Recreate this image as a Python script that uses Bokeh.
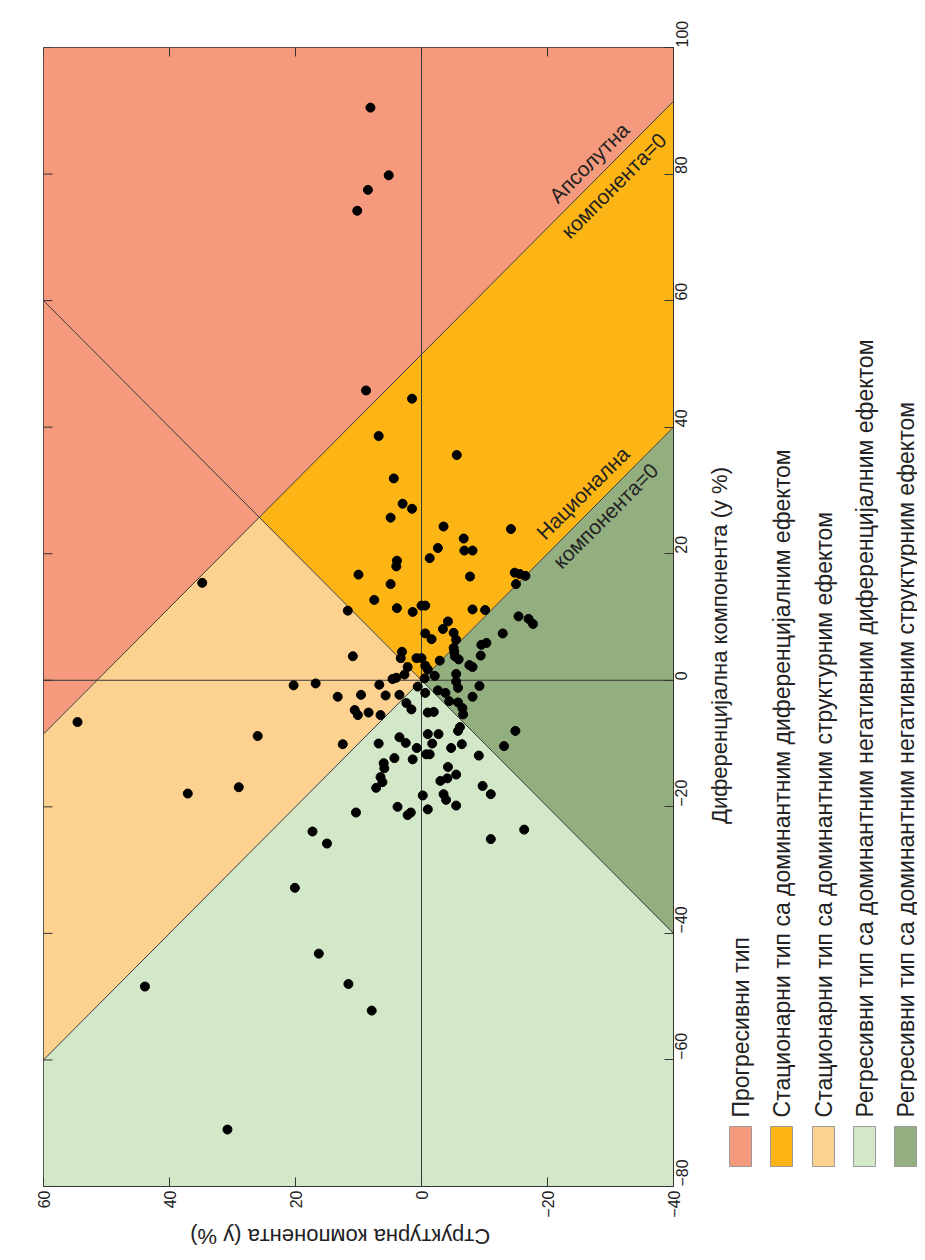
import math
from bokeh.plotting import figure
from bokeh.models import Range1d, LinearAxis, FixedTicker, ColumnDataSource
from bokeh.layouts import row, column
from bokeh.embed import file_html
from bokeh.resources import INLINE
from bokeh.core.properties import value

# ---------------- data (structural S, differential D, in %) ----------------
structural = [8.1, 5.2, 8.5, 10.2, 8.8, 1.5, 6.8, -5.6, 4.4,
              3.0, 1.5, 4.9, -3.5, -14.2, -6.7, -2.6, -6.8, -8.1, -1.3, 3.9,
              4.0, 10.0, 4.9, -7.7, -14.8, -15.6, -16.5, -15.0, 7.5, 11.7, 3.9, 1.4, 0.0, -0.6,
              -8.1, -10.1, -4.2, -3.4, -5.1, -5.5, -0.6, -1.6, -15.4, -17.0, -17.7, -12.9,
              -9.5, -10.3, -5.1, -5.2, -9.4, 3.1, 3.3, 10.9, 0.8, 0.0, -2.9, -5.3, -5.9,
              2.2, -0.6, -1.0, -7.6, -8.1, 2.7, 4.0, 4.6, -0.5, -2.1, -5.5, 6.7, -5.5,
              -5.8, -9.2, 0.6, 13.3, 9.6, 5.7, -0.6, -2.6, -3.8, -8.1, 3.5,
              2.4, 1.6, 10.6, 10.1, 8.4, 6.5, -1.0, -1.95, -4.4, -5.8, -6.5, -6.6,
              12.5, 6.8, 3.5, 2.5, 0.75, -1.0, -2.7, -1.7, -0.75, -1.3, -5.8, -6.1,
              -6.4, -4.7, -14.9, -13.1, -9.1, 4.3, 1.4, 6.0, 5.9, 6.5, 6.2, 7.2,
              -4.2, -4.1, -3.0, -5.5, -9.7, -11.0, -0.2, -3.5, -3.9, -5.5, 3.8, -1.0,
              2.2, 1.7, 10.4, 17.3, 15.0, -16.3, -11.0,
              34.8, 54.6, 20.3, 16.8, 26.0, 37.1, 29.0, 20.1, 16.3, 43.9, 30.8,
              11.6, 7.9]
differential = [90.5, 79.8, 77.5, 74.2, 45.8, 44.5, 38.6, 35.6, 31.9,
                27.9, 27.1, 25.7, 24.3, 23.9, 22.4, 20.9, 20.5, 20.5, 19.3, 18.9,
                18.0, 16.7, 15.2, 16.4, 17.0, 16.8, 16.5, 15.2, 12.7, 11.0, 11.4, 10.8, 11.8, 11.8,
                11.2, 11.1, 9.3, 8.1, 7.5, 6.4, 7.4, 6.5, 10.1, 9.7, 8.9, 7.4,
                5.6, 5.9, 5.1, 4.5, 3.9, 4.5, 3.5, 3.8, 3.5, 3.5, 3.1, 3.8, 3.3,
                2.1, 2.3, 1.7, 2.4, 2.1, 0.9, 0.4, 0.2, 0.3, 0.7, 1.0, -0.7, -0.2,
                -1.2, -0.9, -1.0, -2.6, -2.3, -2.4, -2.0, -1.6, -2.0, -2.6, -2.3,
                -3.6, -4.6, -4.7, -5.5, -5.1, -5.5, -5.1, -5.0, -3.3, -3.5, -4.4, -5.4,
                -10.1, -10.0, -9.0, -9.9, -10.7, -8.5, -8.5, -10.0, -11.7, -11.7, -8.0, -7.4,
                -10.1, -10.7, -8.0, -10.4, -11.9, -12.3, -12.5, -13.1, -13.9, -15.3, -16.1, -17.0,
                -13.7, -15.5, -15.9, -14.9, -16.7, -18.0, -18.2, -18.0, -18.9, -19.8, -20.0, -20.4,
                -21.3, -20.9, -20.9, -23.9, -25.8, -23.6, -25.1,
                15.4, -6.6, -0.8, -0.5, -8.8, -17.9, -16.9, -32.8, -43.2, -48.4, -71.0,
                -48.0, -52.2]

# axis extents and ticks
S_MIN, S_MAX = -40, 60
D_MIN, D_MAX = -80, 100
s_ticks = [60, 40, 20, 0, -20, -40]
d_ticks = [100, 80, 60, 40, 20, 0, -20, -40, -60, -80]

# D + S on the line "Апсолутна компонента=0"
abs_zero = 51.5

region_names = ["Прогресивни тип",
                "Стационарни тип са доминантним диференцијалним ефектом",
                "Стационарни тип са доминантним структурним ефектом",
                "Регресивни тип са доминантним негативним диференцијалним ефектом",
                "Регресивни тип са доминантним негативним структурним ефектом"]
region_colors = ["#F59A7D", "#FDB515", "#FDD290", "#D3E8C9", "#93AE7F"]

x_label = "Структурна компонента (у %)"
y_label = "Диференцијална компонента (у %)"
line_labels = ["Апсолутна", "компонента=0", "Национална", "компонента=0"]

FONT = "Liberation Sans"
TXT = "#222222"

# ---------------- layout geometry (pixels) ----------------
MAIN_W, MAIN_H = 704, 1220
FR_L, FR_T, FR_R, FR_B = 43, 47, 673, 1187
BOT_H = 30
LEG_W = 213
TOTAL_H = MAIN_H + BOT_H

# ---------------- regions (x = S, y = D) ----------------
h = abs_zero / 2.0
reg_xs = [[S_MAX, S_MAX, S_MIN, S_MIN],
          [h, S_MIN, S_MIN, 0],
          [h, S_MAX, S_MAX, 0],
          [0, S_MAX, S_MAX, S_MIN, S_MIN],
          [0, S_MIN, S_MIN]]
reg_ys = [[abs_zero - S_MAX, D_MAX, D_MAX, abs_zero - S_MIN],
          [h, abs_zero - S_MIN, -S_MIN, 0],
          [h, abs_zero - S_MAX, -S_MAX, 0],
          [0, -S_MAX, D_MIN, D_MIN, S_MIN],
          [0, -S_MIN, S_MIN]]

p = figure(width=MAIN_W, height=MAIN_H,
           x_range=Range1d(S_MAX, S_MIN), y_range=Range1d(D_MIN, D_MAX),
           output_backend="svg", toolbar_location=None,
           x_axis_location=None, y_axis_location=None,
           min_border_left=FR_L, min_border_right=MAIN_W - FR_R,
           min_border_top=FR_T, min_border_bottom=MAIN_H - FR_B)
p.grid.grid_line_color = None
p.outline_line_color = "#333333"
p.outline_line_width = 1

p.patches(reg_xs, reg_ys, fill_color=region_colors, line_color=None)

line_col = "#3a3a3a"
p.line([S_MIN, S_MAX], [0, 0], line_color=line_col, line_width=1)
p.line([0, 0], [D_MIN, D_MAX], line_color=line_col, line_width=1)
p.line([S_MIN, S_MAX], [S_MIN, S_MAX], line_color=line_col, line_width=1)
p.line([S_MIN, S_MAX], [-S_MIN, -S_MAX], line_color=line_col, line_width=1)
p.line([S_MIN, S_MAX], [abs_zero - S_MIN, abs_zero - S_MAX], line_color=line_col, line_width=1)

p.scatter(structural, differential, size=9, color="black")

# inward tick marks on the left and top edges (no labels there)
px_s = (S_MAX - S_MIN) / (FR_R - FR_L)
px_d = (D_MAX - D_MIN) / (FR_B - FR_T)
tick_len = 9
p.segment(x0=[S_MAX] * len(d_ticks), y0=d_ticks,
          x1=[S_MAX - tick_len * px_s] * len(d_ticks), y1=d_ticks, line_color="#333333")
p.segment(x0=s_ticks, y0=[D_MAX] * len(s_ticks),
          x1=s_ticks, y1=[D_MAX - tick_len * px_d] * len(s_ticks), line_color="#333333")


def axis(ticks, standoff):
    return LinearAxis(ticker=FixedTicker(ticks=ticks),
                      major_tick_in=tick_len, major_tick_out=0,
                      minor_tick_line_color=None,
                      major_tick_line_color="#333333",
                      axis_line_color="#333333",
                      major_label_orientation=math.pi / 2,
                      major_label_text_font=FONT,
                      major_label_text_font_size="16px",
                      major_label_text_color=TXT,
                      major_label_standoff=standoff)


p.add_layout(axis(s_ticks, 4), "below")
p.add_layout(axis(d_ticks, 8), "right")

# labels of the two diagonal lines
lab_s = [-26.6, -30.5, -25.6, -29.2]
lab_d = [81.8, 78.2, 29.6, 26.0]
p.text(x=lab_s, y=lab_d, text=line_labels, angle=math.pi / 4,
       text_align="center", text_baseline="middle",
       text_font=value(FONT), text_font_size="21px", text_color=TXT)

# ---------------- bottom axis title (upside down, as in the rotated original) ----------------
bf = figure(width=MAIN_W, height=BOT_H, x_range=p.x_range, y_range=Range1d(0, BOT_H),
            output_backend="svg", toolbar_location=None,
            x_axis_location=None, y_axis_location=None,
            min_border_left=FR_L, min_border_right=MAIN_W - FR_R,
            min_border_top=0, min_border_bottom=0)
bf.grid.grid_line_color = None
bf.outline_line_color = None
bf.text(x=[12.9], y=[TOTAL_H - 1236], text=[x_label], angle=math.pi,
        text_align="center", text_baseline="middle",
        text_font=value(FONT), text_font_size="22px", text_color=TXT)

# ---------------- legend panel (and right axis title) ----------------
lg = figure(width=LEG_W, height=TOTAL_H, x_range=Range1d(0, LEG_W), y_range=Range1d(0, TOTAL_H),
            output_backend="svg", toolbar_location=None,
            x_axis_location=None, y_axis_location=None, min_border=0)
lg.grid.grid_line_color = None
lg.outline_line_color = None

leg_cx = [740, 781, 823, 864, 905]
src = ColumnDataSource(dict(x=[c - MAIN_W for c in leg_cx], y=[TOTAL_H - 1146] * 5,
                            c=region_colors, t=region_names, ty=[TOTAL_H - 1117] * 5))
lg.rect(x="x", y="y", width=22, height=40, fill_color="c", line_color="#9a9a9a", source=src)
lg.text(x="x", y="ty", text="t", angle=math.pi / 2, text_align="left", text_baseline="middle",
        text_font=value(FONT), text_font_size="23px", text_color=TXT, source=src)
lg.text(x=[719 - MAIN_W], y=[TOTAL_H - 645], text=[y_label], angle=math.pi / 2,
        text_align="center", text_baseline="middle",
        text_font=value(FONT), text_font_size="22px", text_color=TXT)

layout = row(column(p, bf), lg)
open("out.html", "w").write(file_html(layout, INLINE))
